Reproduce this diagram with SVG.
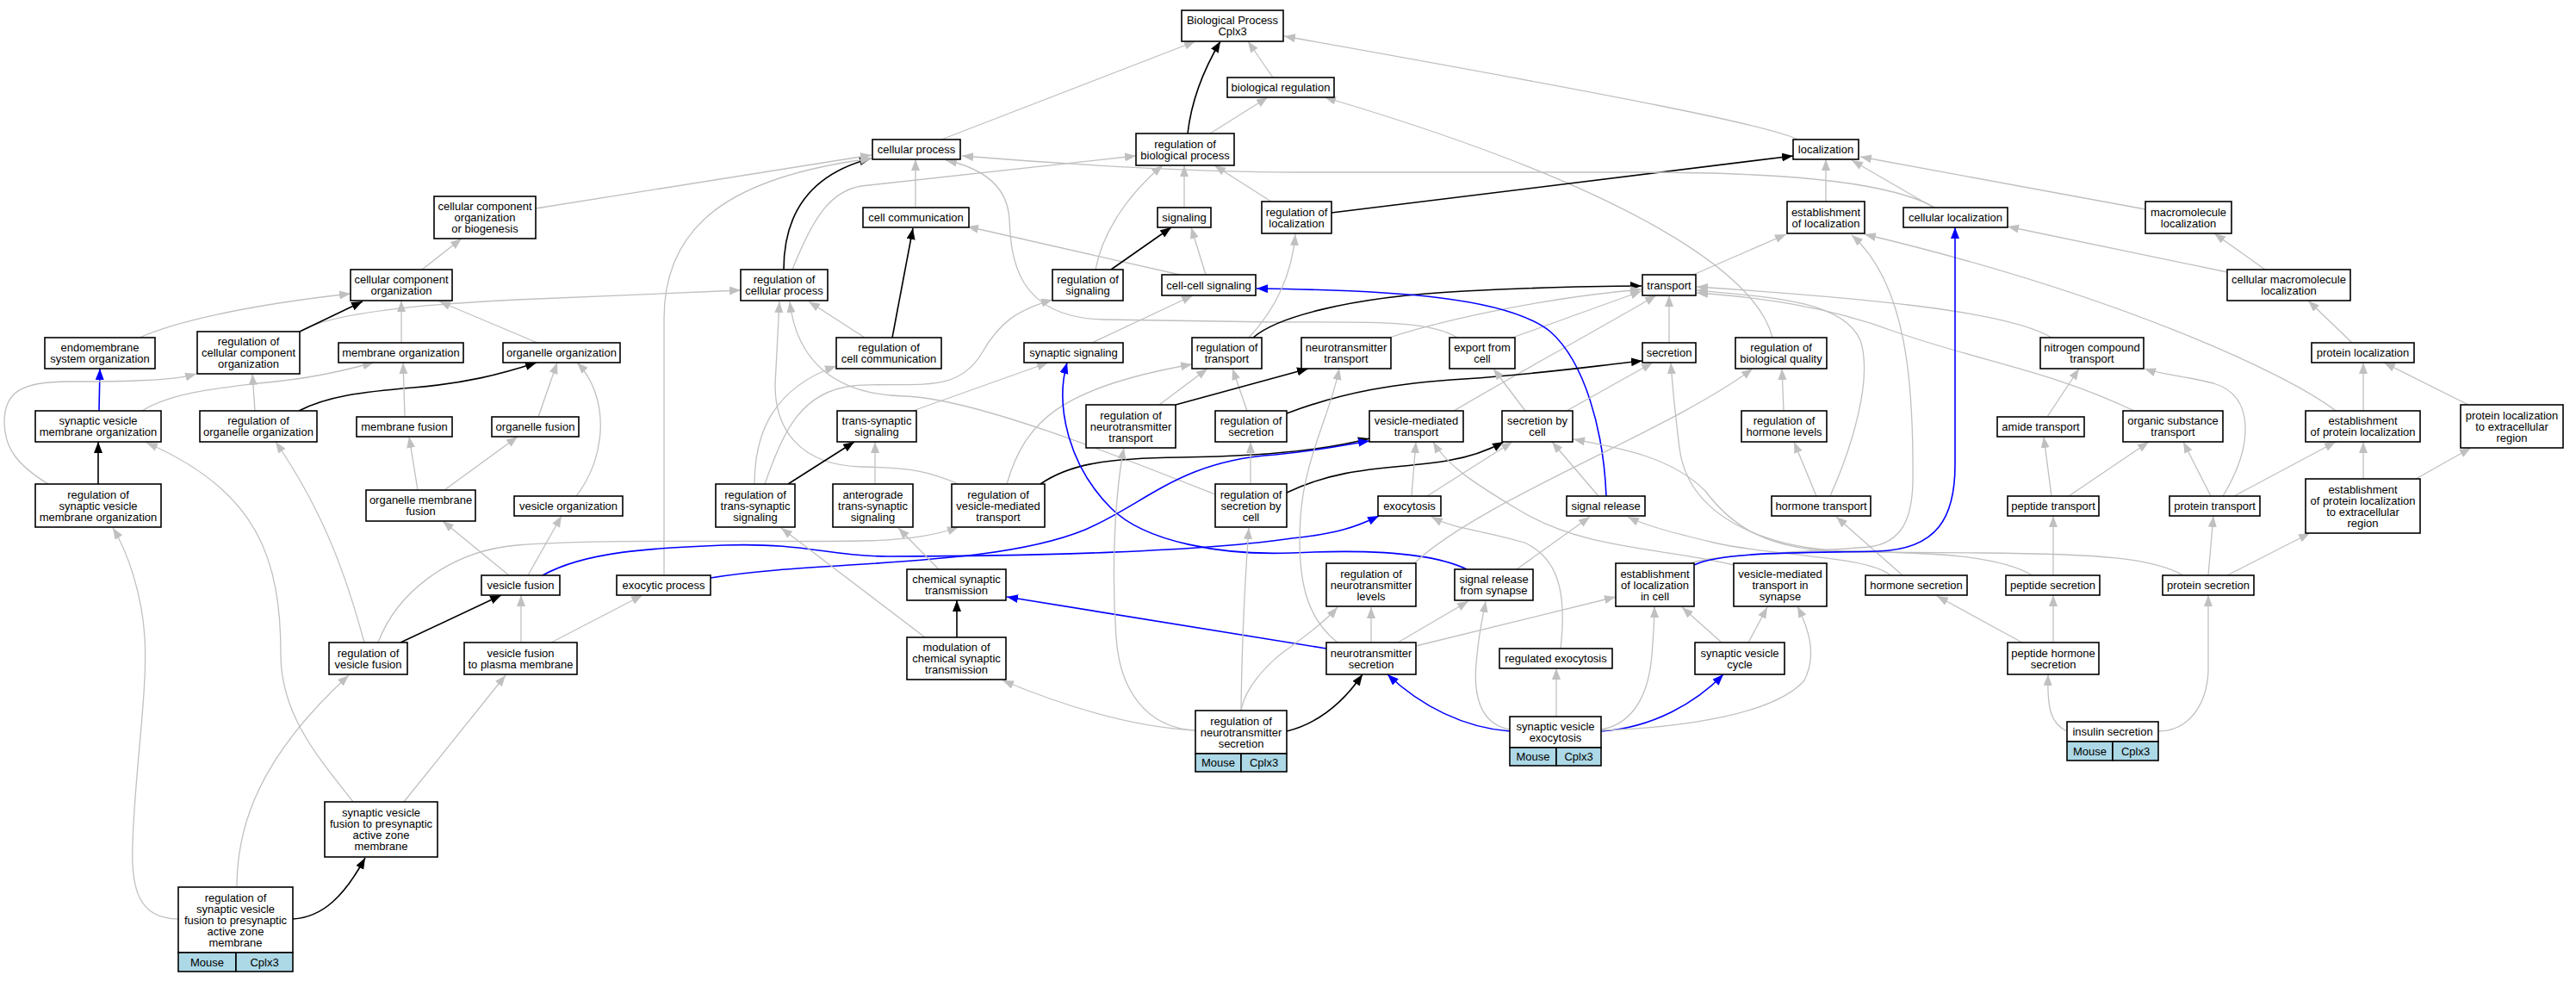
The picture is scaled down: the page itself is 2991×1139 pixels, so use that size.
<svg xmlns="http://www.w3.org/2000/svg" width="2991" height="1139" viewBox="0 0 2991 1139">
<style>
.n rect{fill:#fff;stroke:#000;stroke-width:1.6}
.n rect.lb{fill:#add8e6}
text{font-family:"Liberation Sans",Arial,sans-serif;font-size:13px;text-anchor:middle;fill:#000}
#edges path{fill:none}
.g{stroke:#c0c0c0;stroke-width:1.3;marker-end:url(#ag)}
.k{stroke:#000;stroke-width:1.6;marker-end:url(#ak)}
.b{stroke:#0000ff;stroke-width:1.6;marker-end:url(#ab)}
</style>
<defs>
<marker id="ag" markerUnits="userSpaceOnUse" markerWidth="14" markerHeight="11" refX="13" refY="5" orient="auto"><path d="M0,0L13,5L0,10z" fill="#c0c0c0"/></marker>
<marker id="ak" markerUnits="userSpaceOnUse" markerWidth="14" markerHeight="11" refX="13" refY="5" orient="auto"><path d="M0,0L13,5L0,10z" fill="#000"/></marker>
<marker id="ab" markerUnits="userSpaceOnUse" markerWidth="14" markerHeight="11" refX="13" refY="5" orient="auto"><path d="M0,0L13,5L0,10z" fill="#0000ff"/></marker>
</defs>
<rect width="2991" height="1139" fill="#fff"/>
<g id="edges">
<path class="g" d="M1093,162 L1388,48"/>
<path class="k" d="M1379,155 C1383,120 1395,85 1417,48"/>
<path class="g" d="M1478,90 L1449,48"/>
<path class="g" d="M2088,162 C2050,145 1900,115 1491,42"/>
<path class="g" d="M1405,155 L1472,113"/>
<path class="g" d="M2058,392 C2040,320 1900,220 1538,113"/>
<path class="g" d="M1063,241 L1063,185"/>
<path class="k" d="M910,313 C910,260 930,205 1011,184"/>
<path class="g" d="M1375,241 L1375,192"/>
<path class="g" d="M1272,313 C1280,270 1310,225 1350,192"/>
<path class="g" d="M1476,234 L1410,192"/>
<path class="k" d="M1546,247 L2082,181"/>
<path class="g" d="M920,313 C945,250 965,222 1000,216 L1319,181"/>
<path class="g" d="M622,242 L1012,180"/>
<path class="g" d="M348,385 C375,368 450,355 600,348 L860,337"/>
<path class="g" d="M162,392 C200,375 280,355 407,341"/>
<path class="g" d="M466,398 L466,349"/>
<path class="g" d="M624,398 L510,350"/>
<path class="k" d="M348,385 L421,350"/>
<path class="g" d="M490,313 L536,277"/>
<path class="g" d="M771,668 L771,370 C771,260 850,205 1012,184"/>
<path class="g" d="M1692,392 C1660,372 1600,374 1480,374 L1280,371 C1180,368 1174,300 1172,255 C1170,215 1140,195 1098,186"/>
<path class="g" d="M2247,241 C2200,215 2100,200 1900,200 L1500,200 C1400,200 1250,192 1117,181"/>
<path class="g" d="M2491,243 L2160,182"/>
<path class="g" d="M2245,241 L2150,186"/>
<path class="g" d="M2120,234 L2120,185"/>
<path class="g" d="M1966,319 L2074,272"/>
<path class="g" d="M2712,477 C2650,430 2450,340 2165,272"/>
<path class="g" d="M1962,654 C2000,642 2120,640 2170,635 C2210,630 2220,600 2221,560 C2222,450 2215,330 2150,273"/>
<path class="k" d="M1455,392 C1480,370 1560,345 1700,338 C1800,333 1850,332 1906,332"/>
<path class="g" d="M1613,392 C1680,370 1800,345 1906,336"/>
<path class="g" d="M1756,392 L1906,338"/>
<path class="g" d="M1688,477 C1750,440 1860,380 1923,343"/>
<path class="g" d="M1938,398 L1938,343"/>
<path class="g" d="M2382,392 C2330,360 2150,345 1970,333"/>
<path class="g" d="M2125,576 C2150,520 2175,440 2160,395 C2140,350 2060,345 1970,337"/>
<path class="g" d="M2478,477 C2380,430 2300,420 2200,385 C2120,355 2040,345 1970,340"/>
<path class="b" d="M1865,576 C1862,500 1840,420 1800,385 C1750,345 1620,337 1459,335"/>
<path class="g" d="M1370,319 L1123,263"/>
<path class="g" d="M1400,319 L1383,264"/>
<path class="k" d="M1290,313 L1360,264"/>
<path class="k" d="M1036,392 L1060,265"/>
<path class="g" d="M1004,392 L939,350"/>
<path class="g" d="M1268,398 L1385,343"/>
<path class="g" d="M1450,392 C1480,360 1500,320 1504,272"/>
<path class="g" d="M1113,562 C1080,548 1060,543 1000,542 C930,540 900,500 900,447 L905,350"/>
<path class="g" d="M1411,574 C1300,530 1130,462 1050,460 C970,458 925,420 917,350"/>
<path class="g" d="M876,562 C876,500 900,450 971,425"/>
<path class="g" d="M888,562 C910,500 930,455 990,448 C1060,442 1110,460 1140,410 C1160,375 1180,360 1222,348"/>
<path class="g" d="M1060,477 L1217,421"/>
<path class="k" d="M915,562 L992,513"/>
<path class="g" d="M1016,562 L1016,513"/>
<path class="g" d="M1169,562 C1190,490 1230,450 1384,423"/>
<path class="g" d="M1346,470 L1402,428"/>
<path class="g" d="M1448,477 L1431,428"/>
<path class="k" d="M1365,470 L1519,428"/>
<path class="k" d="M1494,480 C1560,455 1620,445 1700,440 C1800,433 1850,425 1907,419"/>
<path class="k" d="M1208,562 C1240,540 1280,532 1370,531 C1450,530 1530,525 1590,509"/>
<path class="b" d="M825,671 C950,650 1150,660 1260,615 C1330,585 1370,535 1480,528 C1540,522 1570,515 1590,512"/>
<path class="k" d="M1494,572 C1560,540 1620,545 1680,535 C1710,530 1730,522 1746,513"/>
<path class="b" d="M630,668 C680,640 760,636 840,633 C940,630 960,646 1031,646 C1200,646 1400,640 1500,625 C1550,620 1575,612 1601,599"/>
<path class="b" d="M1703,661 C1660,640 1580,638 1500,642 C1420,645 1330,630 1290,590 C1240,540 1225,470 1239,421"/>
<path class="b" d="M1540,753 L1169,693"/>
<path class="g" d="M439,746 C460,690 520,640 600,633 C700,625 900,630 1000,628 C1060,627 1090,620 1113,612"/>
<path class="g" d="M591,668 L514,605"/>
<path class="g" d="M613,668 L652,599"/>
<path class="k" d="M465,746 L582,691"/>
<path class="g" d="M605,746 L605,691"/>
<path class="g" d="M640,746 L746,691"/>
<path class="g" d="M423,746 C405,680 380,600 320,513"/>
<path class="g" d="M410,931 C370,880 326,830 326,760 C326,650 300,570 170,514"/>
<path class="g" d="M469,931 L587,784"/>
<path class="k" d="M340,1067 C375,1065 400,1040 424,996"/>
<path class="g" d="M275,1030 C275,960 300,880 405,784"/>
<path class="g" d="M207,1067 C160,1067 152,1030 154,980 C156,900 172,800 168,740 C165,690 148,640 131,613"/>
<path class="k" d="M114,562 L114,513"/>
<path class="b" d="M115,477 L116,428"/>
<path class="g" d="M165,477 C200,455 260,450 300,445 C360,440 400,430 434,421"/>
<path class="g" d="M56,562 C20,540 5,520 5,490 C5,455 25,443 80,443 C150,443 200,442 228,434"/>
<path class="g" d="M296,477 L293,434"/>
<path class="k" d="M347,477 C380,460 420,455 480,450 C540,445 580,435 623,421"/>
<path class="g" d="M470,484 L468,421"/>
<path class="g" d="M625,484 L647,421"/>
<path class="g" d="M669,576 C705,530 708,460 670,421"/>
<path class="g" d="M485,569 L475,507"/>
<path class="g" d="M516,569 L601,507"/>
<path class="g" d="M1074,740 L907,613"/>
<path class="g" d="M1090,661 L1043,613"/>
<path class="k" d="M1111,740 L1111,697"/>
<path class="g" d="M1388,848 C1330,845 1260,830 1164,790"/>
<path class="g" d="M1388,848 C1330,845 1300,800 1296,740 C1290,660 1295,570 1305,520"/>
<path class="g" d="M1441,825 C1442,740 1445,680 1450,613"/>
<path class="g" d="M1441,825 C1445,800 1470,770 1500,750 C1520,735 1540,720 1553,705"/>
<path class="g" d="M1452,562 L1452,513"/>
<path class="k" d="M1494,849 C1530,840 1560,815 1582,783"/>
<path class="b" d="M1753,849 C1700,845 1650,820 1611,783"/>
<path class="b" d="M1859,849 C1920,845 1970,815 2001,783"/>
<path class="g" d="M1807,832 L1807,776"/>
<path class="g" d="M1753,847 C1715,840 1710,800 1715,760 C1718,730 1722,715 1725,698"/>
<path class="g" d="M1859,847 C1900,840 1915,800 1918,760 C1920,735 1921,720 1921,704"/>
<path class="g" d="M1859,848 C1950,845 2060,830 2095,790 C2110,760 2100,730 2087,704"/>
<path class="g" d="M1812,753 C1818,700 1815,650 1770,630 C1720,615 1690,615 1662,600"/>
<path class="g" d="M1999,746 L1953,705"/>
<path class="g" d="M2030,746 L2052,705"/>
<path class="g" d="M1553,746 C1520,720 1505,680 1510,600 C1515,530 1545,480 1555,428"/>
<path class="g" d="M1592,746 L1592,705"/>
<path class="g" d="M1623,746 L1705,698"/>
<path class="g" d="M1644,750 L1876,693"/>
<path class="g" d="M1761,661 L1846,600"/>
<path class="g" d="M1856,576 L1802,513"/>
<path class="g" d="M1639,576 L1644,513"/>
<path class="g" d="M1657,576 L1756,513"/>
<path class="g" d="M1819,477 L1919,421"/>
<path class="g" d="M1771,477 L1734,428"/>
<path class="g" d="M1642,654 C1720,580 1940,500 2035,428"/>
<path class="g" d="M2071,477 L2069,428"/>
<path class="g" d="M2109,576 L2083,513"/>
<path class="g" d="M2209,668 L2132,600"/>
<path class="g" d="M2195,668 C2170,645 2050,645 1990,630 C1940,618 1910,610 1890,600"/>
<path class="g" d="M2013,656 C1930,635 1840,640 1760,590 C1710,560 1680,540 1664,513"/>
<path class="g" d="M2360,668 C2320,645 2250,642 2150,640 C2050,638 1960,600 1950,520 C1945,480 1942,450 1940,421"/>
<path class="g" d="M2535,668 C2500,648 2440,643 2300,642 L2150,641 C2050,640 2010,610 1980,570 C1940,530 1880,520 1827,510"/>
<path class="g" d="M2348,746 L2249,692"/>
<path class="g" d="M2384,746 L2384,691"/>
<path class="g" d="M2384,668 L2384,599"/>
<path class="g" d="M2564,668 L2570,599"/>
<path class="g" d="M2586,668 L2682,619"/>
<path class="g" d="M2400,849 C2380,840 2377,820 2378,783"/>
<path class="g" d="M2506,849 C2540,849 2562,820 2564,780 L2564,691"/>
<path class="g" d="M2382,576 L2373,507"/>
<path class="g" d="M2402,576 L2495,513"/>
<path class="g" d="M2567,576 L2535,513"/>
<path class="g" d="M2581,576 C2615,520 2620,460 2570,445 C2530,435 2510,435 2490,428"/>
<path class="g" d="M2594,576 L2712,513"/>
<path class="g" d="M2377,484 L2414,428"/>
<path class="g" d="M2744,477 L2744,421"/>
<path class="g" d="M2866,470 L2768,421"/>
<path class="g" d="M2744,556 L2744,513"/>
<path class="g" d="M2805,556 L2869,520"/>
<path class="g" d="M2731,398 L2680,349"/>
<path class="g" d="M2630,313 L2571,271"/>
<path class="g" d="M2586,316 L2331,263"/>
<path class="b" d="M1967,656 C2000,640 2100,642 2180,640 C2250,638 2270,600 2270,540 L2270,264"/>
</g>
<g id="n_bp" class="n"><rect x="1372" y="12" width="118" height="36"/><text x="1431" y="28">Biological Process</text><text x="1431" y="41">Cplx3</text></g>
<g id="n_bioreg" class="n"><rect x="1425" y="90" width="124" height="23"/><text x="1487" y="106">biological regulation</text></g>
<g id="n_cellproc" class="n"><rect x="1013" y="162" width="102" height="23"/><text x="1064" y="178">cellular process</text></g>
<g id="n_regbioproc" class="n"><rect x="1319" y="155" width="114" height="37"/><text x="1376" y="171.5">regulation of</text><text x="1376" y="184.5">biological process</text></g>
<g id="n_loc" class="n"><rect x="2082" y="162" width="76" height="23"/><text x="2120" y="178">localization</text></g>
<g id="n_ccoob" class="n"><rect x="504" y="228" width="118" height="49"/><text x="563" y="244">cellular component</text><text x="563" y="257">organization</text><text x="563" y="270">or biogenesis</text></g>
<g id="n_cellcomm" class="n"><rect x="1002" y="241" width="123" height="23"/><text x="1063.5" y="257">cell communication</text></g>
<g id="n_signaling" class="n"><rect x="1344" y="241" width="62" height="23"/><text x="1375" y="257">signaling</text></g>
<g id="n_regloc" class="n"><rect x="1465" y="234" width="81" height="37"/><text x="1505.5" y="250.5">regulation of</text><text x="1505.5" y="263.5">localization</text></g>
<g id="n_estloc" class="n"><rect x="2075" y="234" width="90" height="37"/><text x="2120" y="250.5">establishment</text><text x="2120" y="263.5">of localization</text></g>
<g id="n_cellloc" class="n"><rect x="2210" y="241" width="121" height="23"/><text x="2270.5" y="257">cellular localization</text></g>
<g id="n_macroloc" class="n"><rect x="2491" y="234" width="100" height="37"/><text x="2541" y="250.5">macromolecule</text><text x="2541" y="263.5">localization</text></g>
<g id="n_ccorg" class="n"><rect x="407" y="313" width="118" height="36"/><text x="466" y="329">cellular component</text><text x="466" y="342">organization</text></g>
<g id="n_regcellproc" class="n"><rect x="860" y="313" width="101" height="36"/><text x="910.5" y="329">regulation of</text><text x="910.5" y="342">cellular process</text></g>
<g id="n_regsig" class="n"><rect x="1222" y="313" width="82" height="36"/><text x="1263" y="329">regulation of</text><text x="1263" y="342">signaling</text></g>
<g id="n_ccsig" class="n"><rect x="1349" y="319" width="109" height="24"/><text x="1403.5" y="335.5">cell-cell signaling</text></g>
<g id="n_transport" class="n"><rect x="1907" y="319" width="62" height="24"/><text x="1938" y="335.5">transport</text></g>
<g id="n_cml" class="n"><rect x="2586" y="313" width="143" height="36"/><text x="2657.5" y="329">cellular macromolecule</text><text x="2657.5" y="342">localization</text></g>
<g id="n_endo" class="n"><rect x="52" y="392" width="128" height="36"/><text x="116" y="408">endomembrane</text><text x="116" y="421">system organization</text></g>
<g id="n_regccorg" class="n"><rect x="229" y="385" width="119" height="49"/><text x="288.5" y="401">regulation of</text><text x="288.5" y="414">cellular component</text><text x="288.5" y="427">organization</text></g>
<g id="n_memorg" class="n"><rect x="393" y="398" width="145" height="23"/><text x="465.5" y="414">membrane organization</text></g>
<g id="n_orgorg" class="n"><rect x="584" y="398" width="136" height="23"/><text x="652" y="414">organelle organization</text></g>
<g id="n_regcellcomm" class="n"><rect x="971" y="392" width="122" height="36"/><text x="1032" y="408">regulation of</text><text x="1032" y="421">cell communication</text></g>
<g id="n_synsig" class="n"><rect x="1189" y="398" width="115" height="23"/><text x="1246.5" y="414">synaptic signaling</text></g>
<g id="n_regtransport" class="n"><rect x="1384" y="392" width="81" height="36"/><text x="1424.5" y="408">regulation of</text><text x="1424.5" y="421">transport</text></g>
<g id="n_nttransport" class="n"><rect x="1511" y="392" width="104" height="36"/><text x="1563" y="408">neurotransmitter</text><text x="1563" y="421">transport</text></g>
<g id="n_export" class="n"><rect x="1683" y="392" width="76" height="36"/><text x="1721" y="408">export from</text><text x="1721" y="421">cell</text></g>
<g id="n_secretion" class="n"><rect x="1907" y="398" width="62" height="23"/><text x="1938" y="414">secretion</text></g>
<g id="n_regbioqual" class="n"><rect x="2015" y="392" width="106" height="36"/><text x="2068" y="408">regulation of</text><text x="2068" y="421">biological quality</text></g>
<g id="n_nitro" class="n"><rect x="2369" y="392" width="120" height="36"/><text x="2429" y="408">nitrogen compound</text><text x="2429" y="421">transport</text></g>
<g id="n_protloc" class="n"><rect x="2684" y="398" width="119" height="23"/><text x="2743.5" y="414">protein localization</text></g>
<g id="n_svmo" class="n"><rect x="41" y="477" width="146" height="36"/><text x="114" y="493">synaptic vesicle</text><text x="114" y="506">membrane organization</text></g>
<g id="n_regorgorg" class="n"><rect x="232" y="477" width="136" height="36"/><text x="300" y="493">regulation of</text><text x="300" y="506">organelle organization</text></g>
<g id="n_memfusion" class="n"><rect x="414" y="484" width="111" height="23"/><text x="469.5" y="500">membrane fusion</text></g>
<g id="n_orgfusion" class="n"><rect x="571" y="484" width="101" height="23"/><text x="621.5" y="500">organelle fusion</text></g>
<g id="n_tss" class="n"><rect x="972" y="477" width="92" height="36"/><text x="1018" y="493">trans-synaptic</text><text x="1018" y="506">signaling</text></g>
<g id="n_regnttransport" class="n"><rect x="1261" y="470" width="104" height="50"/><text x="1313" y="486.5">regulation of</text><text x="1313" y="499.5">neurotransmitter</text><text x="1313" y="512.5">transport</text></g>
<g id="n_regsecretion" class="n"><rect x="1411" y="477" width="83" height="36"/><text x="1452.5" y="493">regulation of</text><text x="1452.5" y="506">secretion</text></g>
<g id="n_vmt" class="n"><rect x="1590" y="477" width="109" height="36"/><text x="1644.5" y="493">vesicle-mediated</text><text x="1644.5" y="506">transport</text></g>
<g id="n_secbycell" class="n"><rect x="1744" y="477" width="82" height="36"/><text x="1785" y="493">secretion by</text><text x="1785" y="506">cell</text></g>
<g id="n_reghormlev" class="n"><rect x="2022" y="477" width="99" height="36"/><text x="2071.5" y="493">regulation of</text><text x="2071.5" y="506">hormone levels</text></g>
<g id="n_amide" class="n"><rect x="2319" y="484" width="101" height="23"/><text x="2369.5" y="500">amide transport</text></g>
<g id="n_ost" class="n"><rect x="2465" y="477" width="116" height="36"/><text x="2523" y="493">organic substance</text><text x="2523" y="506">transport</text></g>
<g id="n_epl" class="n"><rect x="2677" y="477" width="133" height="36"/><text x="2743.5" y="493">establishment</text><text x="2743.5" y="506">of protein localization</text></g>
<g id="n_pler" class="n"><rect x="2857" y="470" width="119" height="50"/><text x="2916.5" y="486.5">protein localization</text><text x="2916.5" y="499.5">to extracellular</text><text x="2916.5" y="512.5">region</text></g>
<g id="n_regsvmo" class="n"><rect x="41" y="562" width="146" height="50"/><text x="114" y="578.5">regulation of</text><text x="114" y="591.5">synaptic vesicle</text><text x="114" y="604.5">membrane organization</text></g>
<g id="n_omf" class="n"><rect x="425" y="569" width="127" height="36"/><text x="488.5" y="585">organelle membrane</text><text x="488.5" y="598">fusion</text></g>
<g id="n_vesorg" class="n"><rect x="597" y="576" width="126" height="23"/><text x="660" y="592">vesicle organization</text></g>
<g id="n_regtss" class="n"><rect x="831" y="562" width="92" height="50"/><text x="877" y="578.5">regulation of</text><text x="877" y="591.5">trans-synaptic</text><text x="877" y="604.5">signaling</text></g>
<g id="n_antss" class="n"><rect x="967" y="562" width="93" height="50"/><text x="1013.5" y="578.5">anterograde</text><text x="1013.5" y="591.5">trans-synaptic</text><text x="1013.5" y="604.5">signaling</text></g>
<g id="n_regvmt" class="n"><rect x="1105" y="562" width="108" height="50"/><text x="1159" y="578.5">regulation of</text><text x="1159" y="591.5">vesicle-mediated</text><text x="1159" y="604.5">transport</text></g>
<g id="n_regsecbycell" class="n"><rect x="1411" y="562" width="83" height="50"/><text x="1452.5" y="578.5">regulation of</text><text x="1452.5" y="591.5">secretion by</text><text x="1452.5" y="604.5">cell</text></g>
<g id="n_exocytosis" class="n"><rect x="1600" y="576" width="73" height="23"/><text x="1636.5" y="592">exocytosis</text></g>
<g id="n_sigrel" class="n"><rect x="1819" y="576" width="91" height="23"/><text x="1864.5" y="592">signal release</text></g>
<g id="n_hormtransport" class="n"><rect x="2057" y="576" width="115" height="23"/><text x="2114.5" y="592">hormone transport</text></g>
<g id="n_peptransport" class="n"><rect x="2331" y="576" width="106" height="23"/><text x="2384" y="592">peptide transport</text></g>
<g id="n_prottransport" class="n"><rect x="2519" y="576" width="105" height="23"/><text x="2571.5" y="592">protein transport</text></g>
<g id="n_epler" class="n"><rect x="2677" y="556" width="133" height="63"/><text x="2743.5" y="572.5">establishment</text><text x="2743.5" y="585.5">of protein localization</text><text x="2743.5" y="598.5">to extracellular</text><text x="2743.5" y="611.5">region</text></g>
<g id="n_vesfusion" class="n"><rect x="559" y="668" width="91" height="23"/><text x="604.5" y="684">vesicle fusion</text></g>
<g id="n_exoproc" class="n"><rect x="716" y="668" width="109" height="23"/><text x="770.5" y="684">exocytic process</text></g>
<g id="n_cst" class="n"><rect x="1053" y="661" width="115" height="36"/><text x="1110.5" y="677">chemical synaptic</text><text x="1110.5" y="690">transmission</text></g>
<g id="n_regntlev" class="n"><rect x="1540" y="654" width="104" height="50"/><text x="1592" y="670.5">regulation of</text><text x="1592" y="683.5">neurotransmitter</text><text x="1592" y="696.5">levels</text></g>
<g id="n_srfs" class="n"><rect x="1689" y="661" width="91" height="36"/><text x="1734.5" y="677">signal release</text><text x="1734.5" y="690">from synapse</text></g>
<g id="n_estlocincell" class="n"><rect x="1876" y="654" width="91" height="50"/><text x="1921.5" y="670.5">establishment</text><text x="1921.5" y="683.5">of localization</text><text x="1921.5" y="696.5">in cell</text></g>
<g id="n_vmtsyn" class="n"><rect x="2013" y="654" width="108" height="50"/><text x="2067" y="670.5">vesicle-mediated</text><text x="2067" y="683.5">transport in</text><text x="2067" y="696.5">synapse</text></g>
<g id="n_hormsec" class="n"><rect x="2166" y="668" width="118" height="23"/><text x="2225" y="684">hormone secretion</text></g>
<g id="n_pepsec" class="n"><rect x="2329" y="668" width="109" height="23"/><text x="2383.5" y="684">peptide secretion</text></g>
<g id="n_protsec" class="n"><rect x="2511" y="668" width="106" height="23"/><text x="2564" y="684">protein secretion</text></g>
<g id="n_regvesfusion" class="n"><rect x="382" y="746" width="91" height="37"/><text x="427.5" y="762.5">regulation of</text><text x="427.5" y="775.5">vesicle fusion</text></g>
<g id="n_vfpm" class="n"><rect x="539" y="746" width="131" height="37"/><text x="604.5" y="762.5">vesicle fusion</text><text x="604.5" y="775.5">to plasma membrane</text></g>
<g id="n_modcst" class="n"><rect x="1053" y="740" width="115" height="49"/><text x="1110.5" y="756">modulation of</text><text x="1110.5" y="769">chemical synaptic</text><text x="1110.5" y="782">transmission</text></g>
<g id="n_ntsec" class="n"><rect x="1540" y="746" width="104" height="37"/><text x="1592" y="762.5">neurotransmitter</text><text x="1592" y="775.5">secretion</text></g>
<g id="n_regexo" class="n"><rect x="1741" y="753" width="131" height="23"/><text x="1806.5" y="769">regulated exocytosis</text></g>
<g id="n_svcycle" class="n"><rect x="1968" y="746" width="104" height="37"/><text x="2020" y="762.5">synaptic vesicle</text><text x="2020" y="775.5">cycle</text></g>
<g id="n_phs" class="n"><rect x="2331" y="746" width="106" height="37"/><text x="2384" y="762.5">peptide hormone</text><text x="2384" y="775.5">secretion</text></g>
<g id="n_regntsec" class="n"><rect x="1388" y="825" width="106" height="50"/><text x="1441" y="841.5">regulation of</text><text x="1441" y="854.5">neurotransmitter</text><text x="1441" y="867.5">secretion</text><rect class="lb" x="1388" y="875" width="53" height="21"/><rect class="lb" x="1441" y="875" width="53" height="21"/><text x="1414.5" y="890">Mouse</text><text x="1467.5" y="890">Cplx3</text></g>
<g id="n_sve" class="n"><rect x="1753" y="832" width="106" height="36"/><text x="1806" y="848">synaptic vesicle</text><text x="1806" y="861">exocytosis</text><rect class="lb" x="1753" y="868" width="54" height="21"/><rect class="lb" x="1807" y="868" width="52" height="21"/><text x="1780" y="883">Mouse</text><text x="1833" y="883">Cplx3</text></g>
<g id="n_insulin" class="n"><rect x="2400" y="838" width="106" height="23"/><text x="2453" y="854">insulin secretion</text><rect class="lb" x="2400" y="861" width="53" height="22"/><rect class="lb" x="2453" y="861" width="53" height="22"/><text x="2426.5" y="876.5">Mouse</text><text x="2479.5" y="876.5">Cplx3</text></g>
<g id="n_svfpazm" class="n"><rect x="377" y="931" width="131" height="64"/><text x="442.5" y="948">synaptic vesicle</text><text x="442.5" y="961">fusion to presynaptic</text><text x="442.5" y="974">active zone</text><text x="442.5" y="987">membrane</text></g>
<g id="n_regsvfpazm" class="n"><rect x="207" y="1030" width="133" height="76"/><text x="273.5" y="1046.5">regulation of</text><text x="273.5" y="1059.5">synaptic vesicle</text><text x="273.5" y="1072.5">fusion to presynaptic</text><text x="273.5" y="1085.5">active zone</text><text x="273.5" y="1098.5">membrane</text><rect class="lb" x="207" y="1106" width="67" height="22"/><rect class="lb" x="274" y="1106" width="66" height="22"/><text x="240.5" y="1121.5">Mouse</text><text x="307" y="1121.5">Cplx3</text></g>
</svg>
